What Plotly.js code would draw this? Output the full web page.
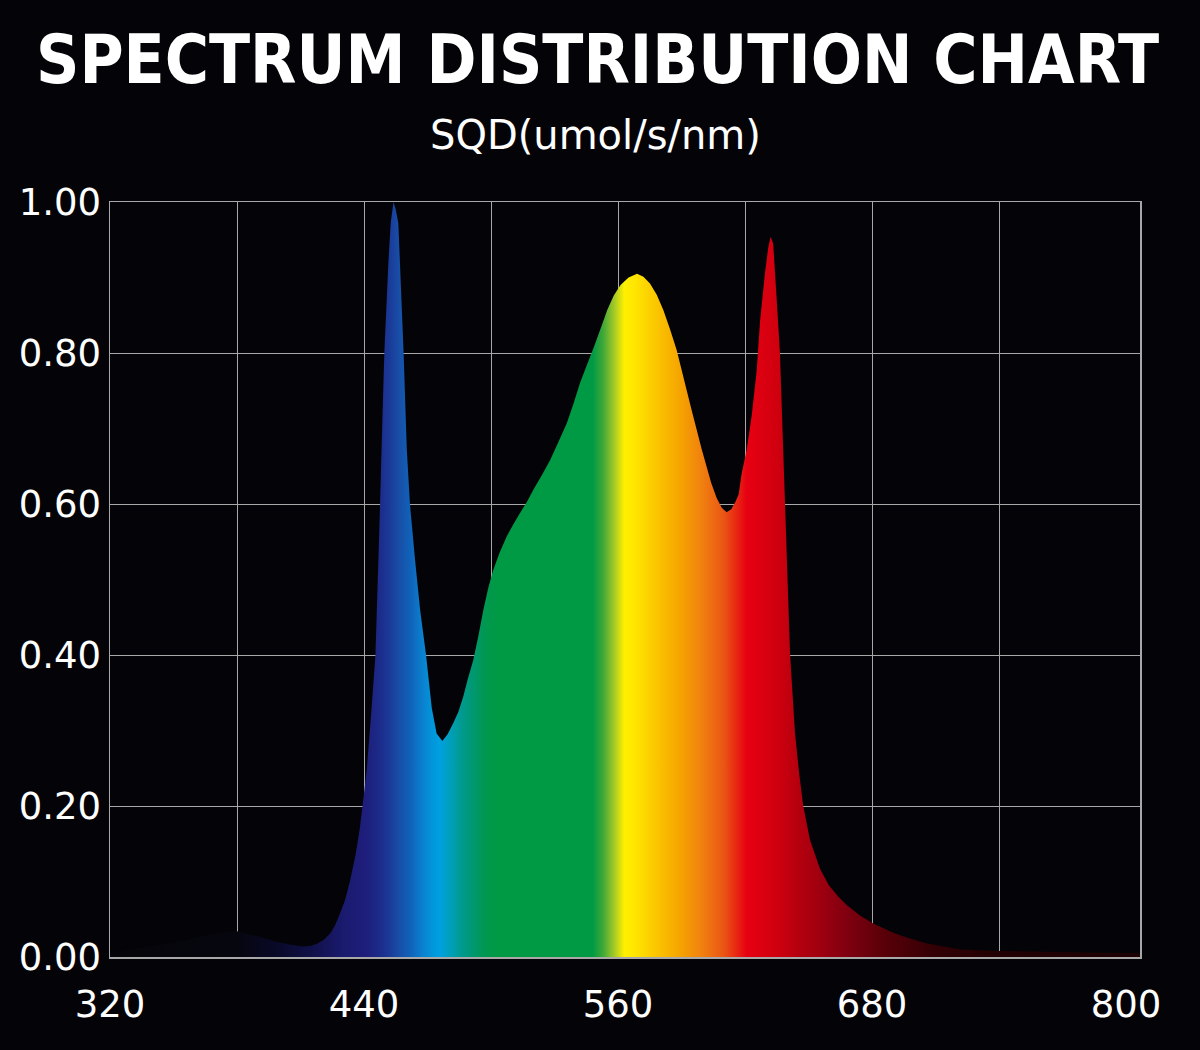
<!DOCTYPE html>
<html>
<head>
<meta charset="utf-8">
<script src="https://cdn.plot.ly/plotly-3.0.1.min.js"></script>
<style>
  html, body { margin: 0; padding: 0; background: #040408; }
</style>
</head>
<body>
<div id="spectrum" style="width:1200px;height:1050px;"></div>
<script>
// wavelength (nm) and relative photon flux
var wavelength = [320, 328, 340, 352, 367, 380, 390, 399, 406, 411, 415, 418, 421, 424, 426, 428, 431,
  433.5, 436, 438, 439.5, 441.3, 443.6, 445.4, 446.8, 447.6, 448.3, 449.6, 451.5, 452.6, 453.9, 455,
  456.2, 457, 458.7, 460.2, 461.7, 464.1, 466.5, 469.3, 472, 474.3, 477, 479.5, 482.2, 484.6, 486.9,
  489, 491.6, 494, 496.4, 498.8, 501.1, 504, 507.4, 510.5, 513.7, 517, 520, 524, 527.9, 532, 535.8,
  539, 542, 545.3, 548.6, 552, 554.9, 558, 561.2, 565, 569, 572, 575.1, 578.3, 581.4, 584.5, 587.7,
  590, 592.4, 595, 597.2, 599.5, 601.9, 604, 606.6, 609, 611.3, 613.5, 615.5, 617, 618.4, 620.8,
  623.2, 625.5, 627.1, 629.4, 631, 632.1, 633.3, 634.9, 636.5, 638.9, 641.3, 643.6, 645.5, 647.5,
  650.7, 655.4, 659.6, 664, 668, 674.3, 680.8, 690, 696, 705.8, 714, 721.6, 730, 740.5, 760, 780, 806.6];

var sqd = [0.004, 0.009, 0.014, 0.020, 0.029, 0.034, 0.027, 0.020, 0.016, 0.014, 0.015, 0.018, 0.023,
  0.031, 0.040, 0.053, 0.075, 0.102, 0.135, 0.170, 0.205, 0.248, 0.330, 0.400, 0.526, 0.600, 0.673,
  0.800, 0.918, 0.972, 1.000, 0.990, 0.972, 0.918, 0.800, 0.673, 0.600, 0.526, 0.460, 0.400, 0.330,
  0.296, 0.286, 0.295, 0.310, 0.325, 0.345, 0.368, 0.393, 0.425, 0.460, 0.490, 0.513, 0.535, 0.557,
  0.573, 0.588, 0.603, 0.619, 0.638, 0.658, 0.683, 0.707, 0.733, 0.760, 0.784, 0.808, 0.834, 0.857,
  0.876, 0.890, 0.900, 0.905, 0.901, 0.892, 0.877, 0.857, 0.832, 0.804, 0.778, 0.751, 0.722, 0.698,
  0.673, 0.649, 0.628, 0.608, 0.595, 0.589, 0.593, 0.603, 0.613, 0.640, 0.672, 0.718, 0.776, 0.842,
  0.905, 0.940, 0.954, 0.945, 0.874, 0.800, 0.600, 0.400, 0.297, 0.245, 0.200, 0.155, 0.117, 0.095,
  0.080, 0.069, 0.055, 0.044, 0.032, 0.026, 0.018, 0.014, 0.010, 0.009, 0.008, 0.007, 0.006, 0.005];

var xTicks = [320, 440, 560, 680, 800];
var yTicks = [0, 0.2, 0.4, 0.6, 0.8, 1.0];
var gridWavelengths = [380, 440, 500, 560, 620, 680, 740];

// spectrum colours along the wavelength axis
var xMin = 320, xMax = 806.6;
var colourStops = [
  [320, '#050509'], [380, '#06060f'], [400, '#09092a'], [415, '#101048'], [430, '#1a1a6e'],
  [441, '#1e1e7c'], [447, '#1c2a88'], [452, '#1a3a98'], [457, '#1850a8'], [462, '#1062ba'],
  [468, '#0a82d0'], [473, '#0098dc'], [476, '#00a0e0'], [481, '#009fb8'], [486, '#009a90'],
  [491, '#009872'], [497, '#009850'], [503, '#009944'], [548, '#009944'], [553, '#40a838'],
  [558, '#a0c828'], [563, '#fff000'], [567, '#ffe800'], [578, '#fbc600'], [590, '#f5a200'],
  [600, '#f07f10'], [610, '#ea5514'], [621, '#e60012'], [635, '#d0000f'], [645, '#b5000e'],
  [655, '#a00010'], [668, '#800010'], [685, '#5a0008'], [710, '#320005'], [740, '#220003'],
  [806.6, '#1c0003']
];
var colorscale = colourStops.map(function (s) {
  return [(s[0] - xMin) / (xMax - xMin), s[1]];
});

var trace = {
  x: wavelength,
  y: sqd,
  type: 'scatter',
  mode: 'none',
  fill: 'tozeroy',
  fillgradient: { type: 'horizontal', start: xMin, stop: xMax, colorscale: colorscale },
  hoverinfo: 'skip'
};

var tickFont = { family: 'DejaVu Sans, sans-serif', size: 37, color: '#ffffff' };
var gridGrey = '#a8a8a8';

var layout = {
  width: 1200,
  height: 1050,
  paper_bgcolor: '#040408',
  plot_bgcolor: '#040408',
  margin: { l: 110, r: 60, t: 202, b: 93 },
  showlegend: false,
  title: {
    text: 'SPECTRUM DISTRIBUTION CHART',
    font: { family: 'DejaVu Sans Condensed, DejaVu Sans, sans-serif', size: 67, color: '#ffffff', weight: 'bold' },
    x: 0.498, xanchor: 'center',
    yref: 'container', y: 0.943, yanchor: 'middle'
  },
  annotations: [{
    text: 'SQD(umol/s/nm)',
    xref: 'paper', yref: 'paper', x: 0.471, y: 1.089,
    xanchor: 'center', yanchor: 'middle', showarrow: false,
    font: { family: 'DejaVu Sans, sans-serif', size: 40, color: '#ffffff' }
  }],
  xaxis: {
    range: [xMin, xMax],
    tickmode: 'array', tickvals: xTicks,
    showgrid: false,
    minor: { tickmode: 'array', tickvals: gridWavelengths, showgrid: true, gridcolor: gridGrey, gridwidth: 1, ticklen: 0 },
    showline: true, mirror: true, linecolor: gridGrey, linewidth: 1.5,
    ticks: 'outside', ticklen: 14, tickcolor: 'rgba(0,0,0,0)',
    tickfont: tickFont, zeroline: false, fixedrange: true
  },
  yaxis: {
    range: [0, 1],
    tickmode: 'array', tickvals: yTicks, tickformat: '.2f',
    showgrid: true, gridcolor: gridGrey, gridwidth: 1,
    showline: true, mirror: true, linecolor: gridGrey, linewidth: 1.5,
    ticks: '', tickfont: tickFont, zeroline: false, fixedrange: true
  }
};

Plotly.newPlot('spectrum', [trace], layout, { displayModeBar: false, staticPlot: true });
</script>
</body>
</html>
